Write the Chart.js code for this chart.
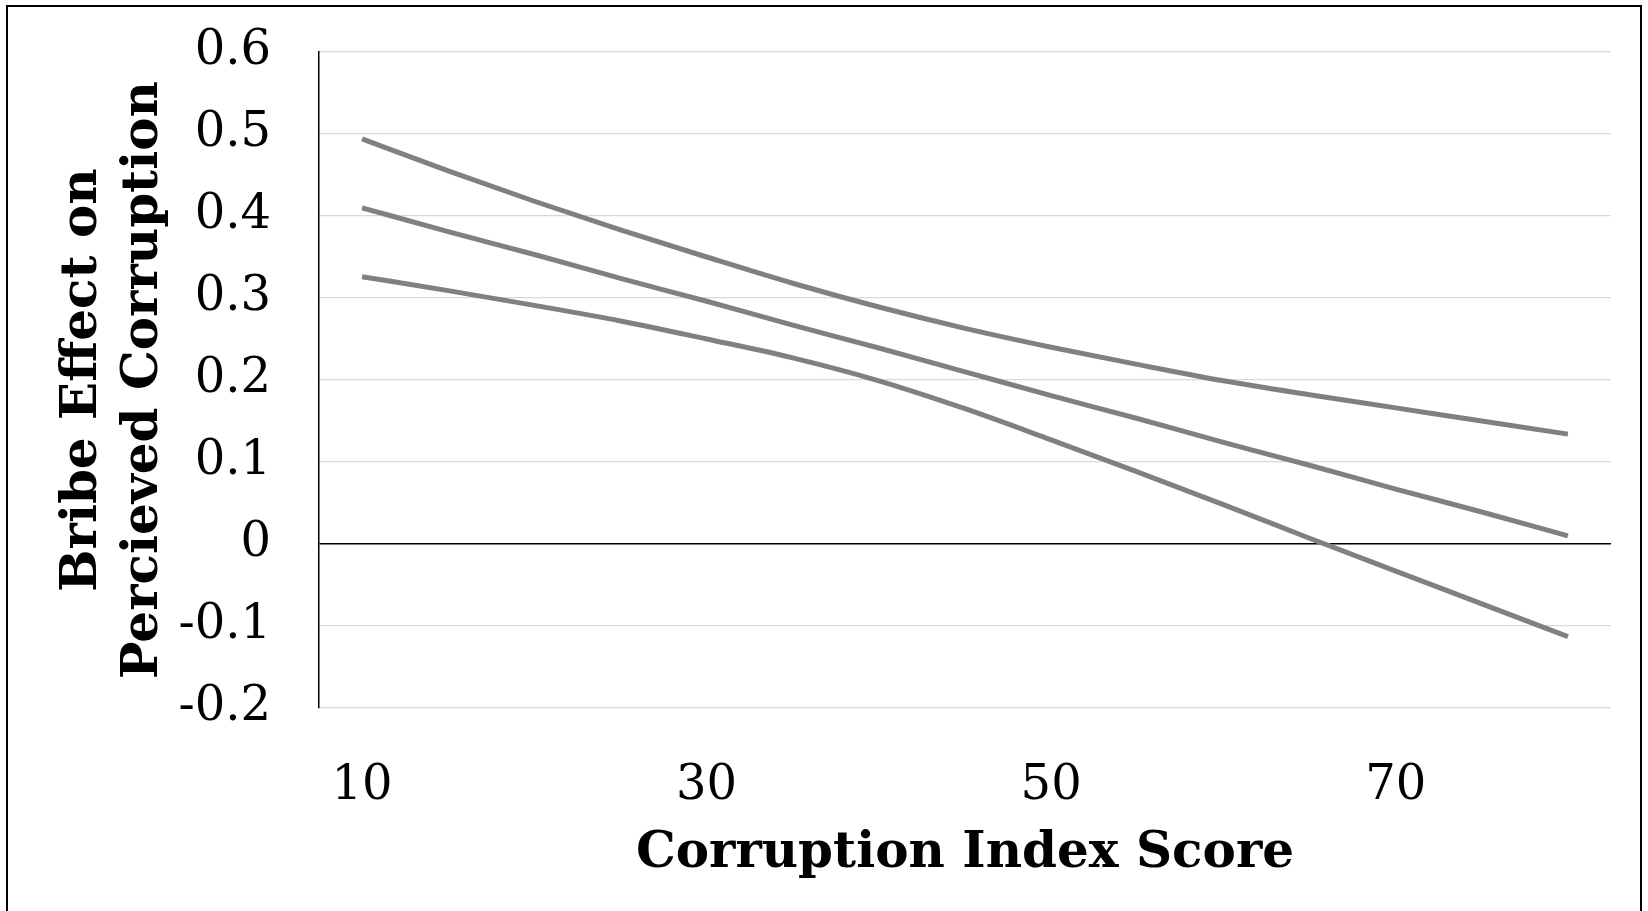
<!DOCTYPE html>
<html>
<head>
<meta charset="utf-8">
<script src="https://cdn.jsdelivr.net/npm/chart.js@4.4.1/dist/chart.umd.min.js"></script>
<style>
  html, body { margin: 0; padding: 0; background: #fff; }
  #frame { position: absolute; left: 6px; top: 5px; width: 1632px; height: 1000px; border: 2px solid #000; }
  #chart { position: absolute; left: 0; top: 0; }
</style>
</head>
<body>
<div id="frame"></div>
<canvas id="chart" width="1648" height="911"></canvas>
<script>
// corruption index score (category axis)
const scores = [10, 15, 20, 25, 30, 35, 40, 45, 50, 55, 60, 65, 70, 75, 80];
const tickEvery = 4; // 10, 30, 50, 70 shown

// bribe effect: upper bound, estimate, lower bound
const upperBound = [0.494, 0.455, 0.418, 0.383, 0.350, 0.318, 0.289, 0.263, 0.240, 0.219, 0.199, 0.182, 0.166, 0.150, 0.134];
const estimate   = [0.410, 0.381, 0.353, 0.324, 0.296, 0.267, 0.239, 0.210, 0.181, 0.153, 0.124, 0.096, 0.067, 0.039, 0.010];
const lowerBound = [0.326, 0.309, 0.291, 0.272, 0.250, 0.227, 0.199, 0.165, 0.127, 0.088, 0.048, 0.007, -0.033, -0.073, -0.113];

const yMin = -0.2, yMax = 0.6, yStep = 0.1;

const serif = "'DejaVu Serif', 'Liberation Serif', serif";
const lineGrey = '#808080';

function band(data) {
    return {
        data: data,
        borderColor: lineGrey,
        borderWidth: 5,
        pointRadius: 0,
        fill: false,
        cubicInterpolationMode: 'monotone'
    };
}

new Chart(document.getElementById('chart'), {
    type: 'line',
    data: {
        labels: scores,
        datasets: [band(upperBound), band(estimate), band(lowerBound)]
    },
    options: {
        responsive: false,
        animation: false,
        layout: {
            padding: { left: 0, top: 52, right: 37, bottom: 0 }
        },
        plugins: {
            legend: { display: false },
            tooltip: { enabled: false }
        },
        scales: {
            x: {
                type: 'category',
                offset: true,
                grid: { display: false, drawTicks: true, tickLength: 50 },
                border: { display: false },
                ticks: {
                    autoSkip: false,
                    maxRotation: 0,
                    padding: 0,
                    color: '#000',
                    font: { family: serif, size: 48 },
                    callback: function (value, index) {
                        return index % tickEvery === 0 ? this.getLabelForValue(value) : '';
                    }
                },
                title: {
                    display: true,
                    text: 'Corruption Index Score',
                    color: '#000',
                    font: { family: serif, size: 50, weight: 'bold', lineHeight: 1.2 },
                    padding: { top: 0, bottom: 27 }
                },
                afterFit: function (scale) { scale.height = 911 - 708; }
            },
            y: {
                min: yMin,
                max: yMax,
                grid: {
                    drawTicks: true,
                    tickLength: 48,
                    tickColor: 'rgba(0,0,0,0)',
                    color: (ctx) => ctx.tick && Math.abs(ctx.tick.value) < 1e-9 ? '#000' : '#d9d9d9',
                    lineWidth: (ctx) => ctx.tick && Math.abs(ctx.tick.value) < 1e-9 ? 1.5 : 1.2
                },
                border: { display: true, color: '#000', width: 1.5 },
                ticks: {
                    stepSize: yStep,
                    padding: 0,
                    color: '#000',
                    font: { family: serif, size: 48 },
                    callback: (v) => String(Math.round(v * 10) / 10)
                },
                title: {
                    display: true,
                    text: ['Bribe Effect on', 'Percieved Corruption'],
                    color: '#000',
                    font: { family: serif, size: 50, weight: 'bold', lineHeight: 1.22 },
                    padding: { top: 53, bottom: 0 }
                },
                afterFit: function (scale) { scale.width = 319; }
            }
        }
    }
});
</script>
</body>
</html>
